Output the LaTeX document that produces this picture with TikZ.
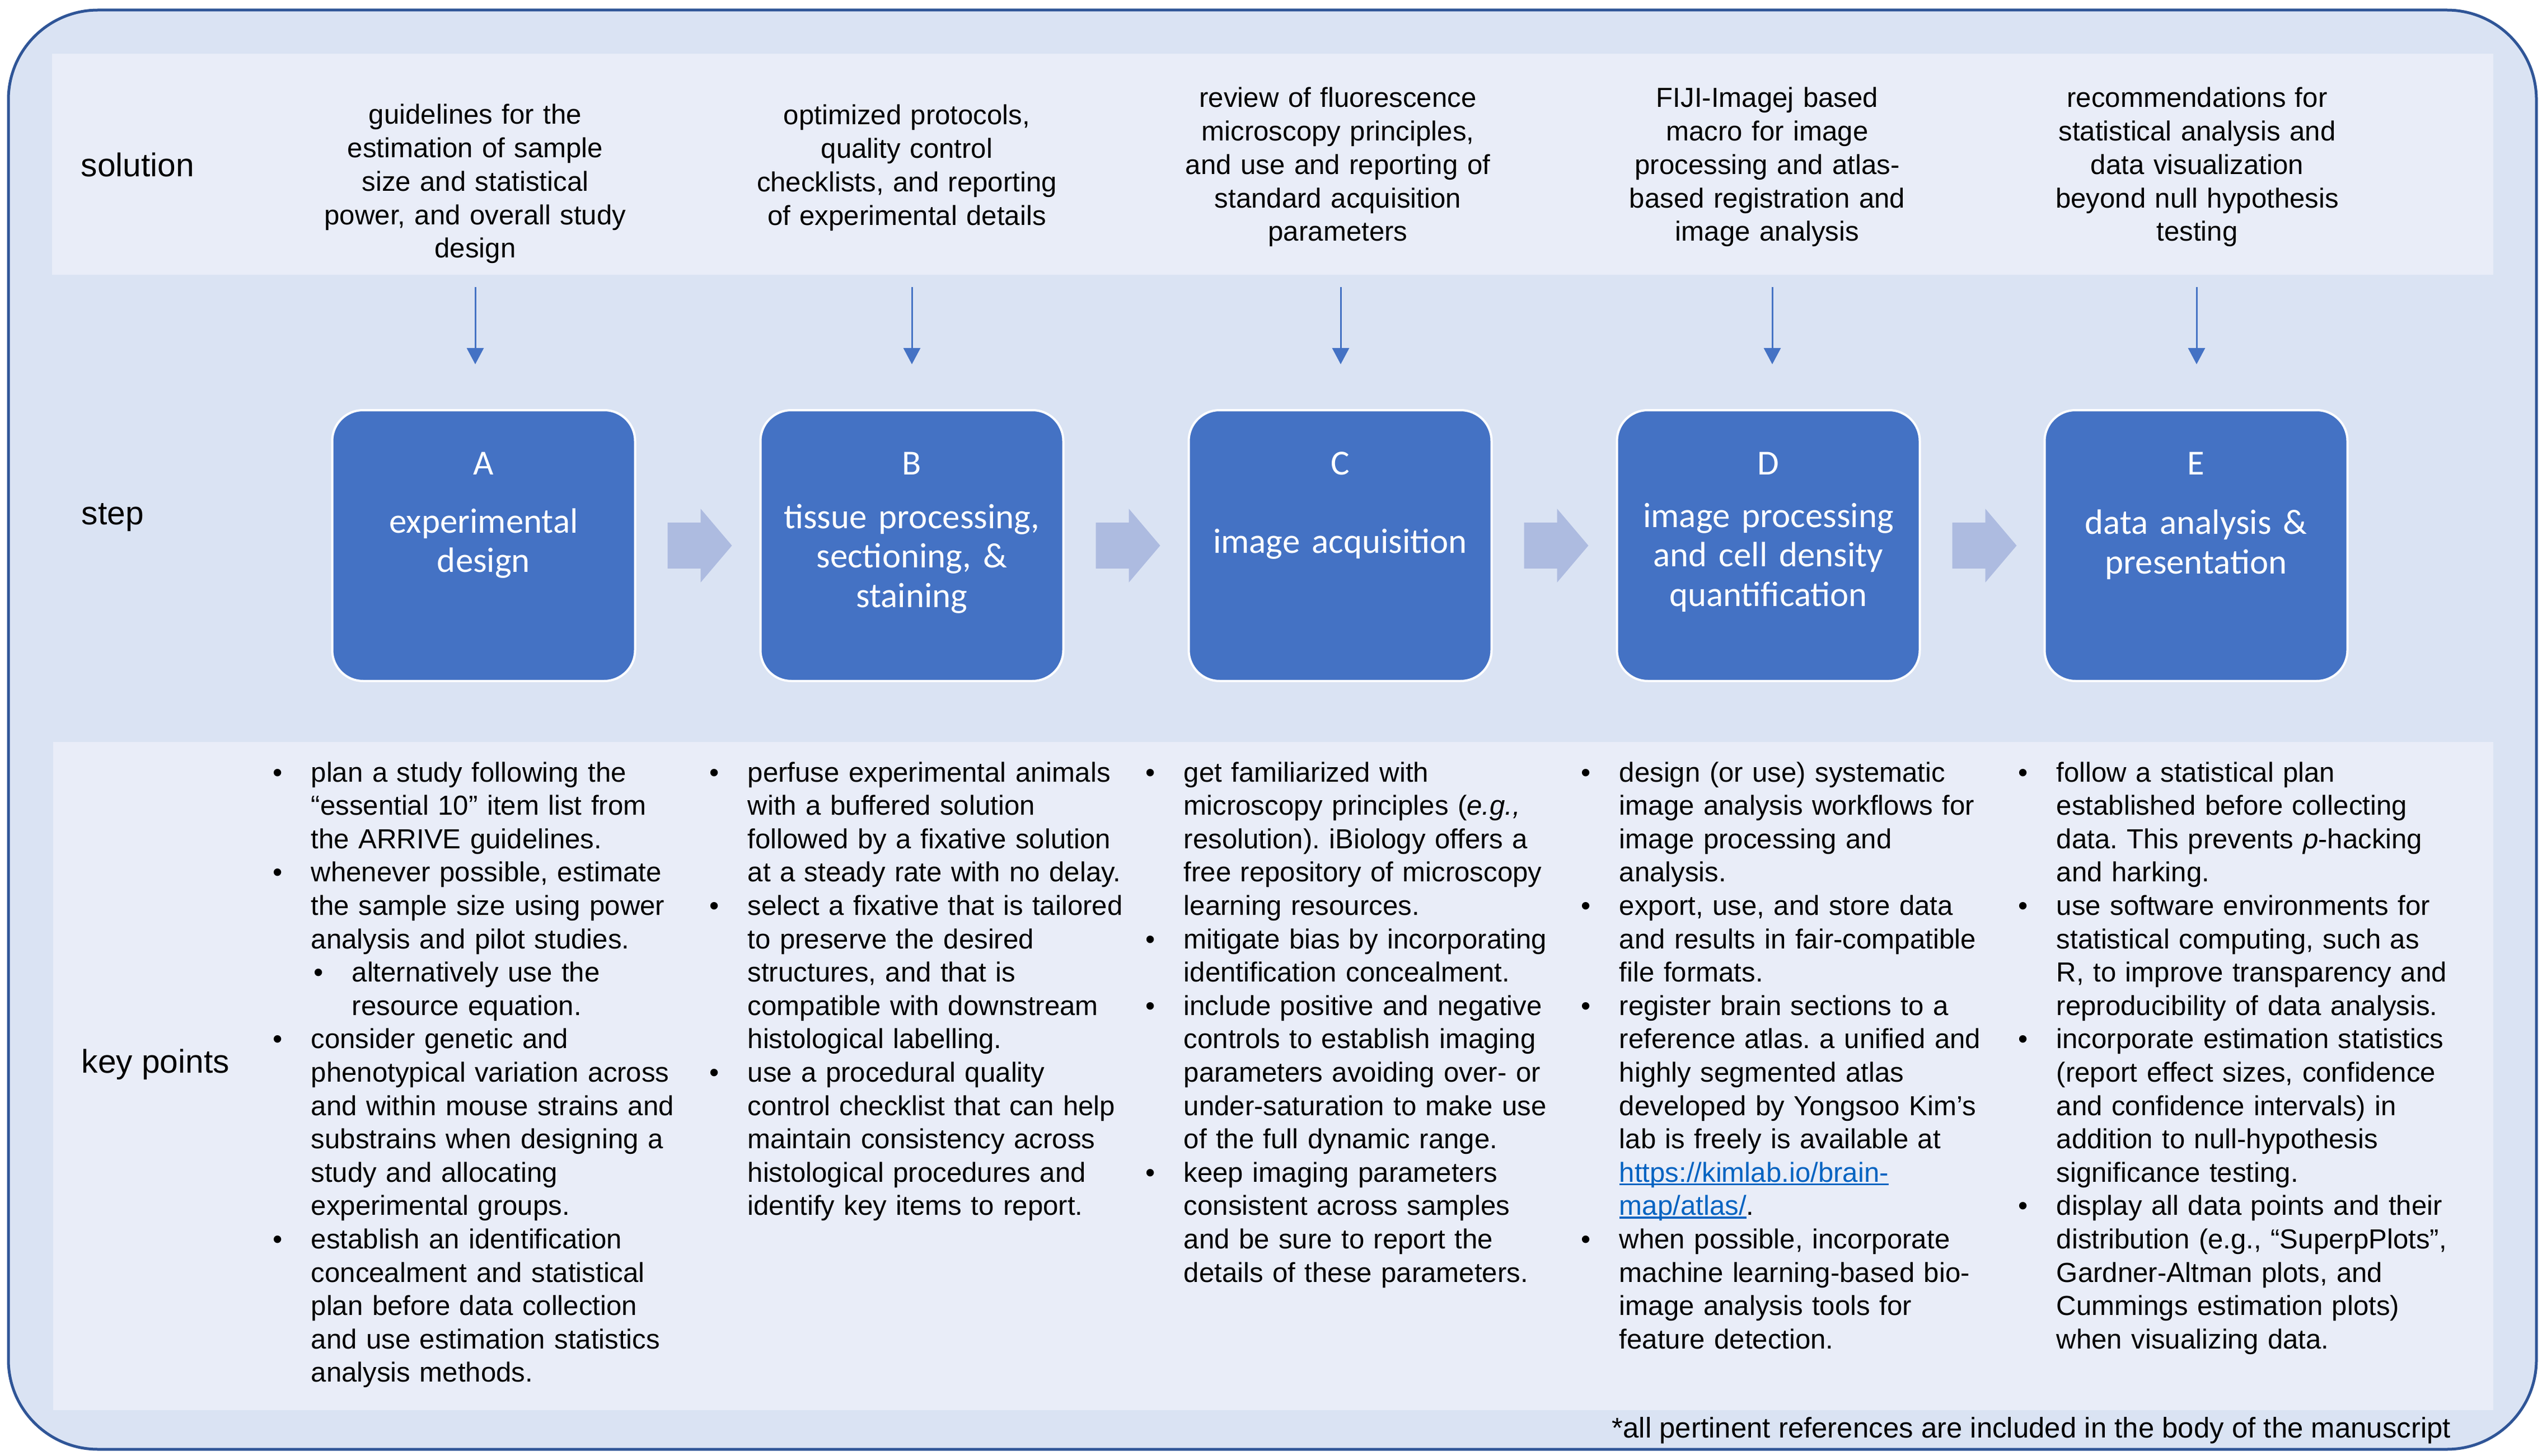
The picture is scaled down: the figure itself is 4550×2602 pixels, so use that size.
\documentclass[tikz,border=0pt]{standalone}
\usepackage{fontspec}
\setmainfont{Liberation Sans}
\newfontfamily\calibrifont{Carlito}
\usetikzlibrary{arrows.meta}
\frenchspacing

\definecolor{framebg}{RGB}{218,227,243}
\definecolor{bandbg}{RGB}{233,237,248}
\definecolor{framedge}{RGB}{47,85,151}
\definecolor{stepblue}{RGB}{68,114,196}
\definecolor{flowblue}{RGB}{173,187,224}
\definecolor{linkblue}{RGB}{5,99,193}

% bullets with hanging indent
\newcommand{\kpitem}[1]{\hangindent=6.8mm\hangafter=1\noindent\makebox[6.8mm][l]{\textbullet}#1\par}
\newcommand{\kpsub}[1]{\hangindent=14.1mm\hangafter=1\noindent\hspace*{7.3mm}\makebox[6.8mm][l]{\textbullet}#1\par}
\newcommand{\weblink}[1]{\setbox0\hbox{#1}\textcolor{linkblue}{\rlap{\rule[-0.12em]{\wd0}{0.07em}}\box0}}

\tikzset{
  rowlabel/.style={anchor=base west, inner sep=0pt, font=\fontsize{16.7pt}{20pt}\selectfont},
  soltext/.style={anchor=base, inner sep=0pt, align=center, text width=70mm, font=\fontsize{14pt}{17pt}\selectfont},
  stepbox/.style={draw=white, line width=0.4mm, fill=stepblue, rounded corners=5.5mm, minimum width=54.1mm, minimum height=48.4mm, inner sep=0pt},
  steptext/.style={anchor=base, inner sep=0pt, align=center, text width=52mm, text=white, font=\calibrifont\fontsize{17.9pt}{20.2pt}\selectfont},
  keytext/.style={anchor=base west, inner sep=0pt, align=left, text width=80mm, font=\fontsize{14pt}{16.96pt}\selectfont},
  solarrow/.style={draw=stepblue, line width=0.3mm, -{Triangle[length=2.9mm,width=3mm]}},
  flowarrow/.style={fill=flowblue}
}

\begin{document}
\begin{tikzpicture}[x=0.1mm, y=-0.1mm, line join=round]
\useasboundingbox (0,0) rectangle (4550,2602);
% frame and bands
\draw[framedge, fill=framebg, line width=0.5mm, rounded corners=16mm] (15,18) rectangle (4531,2590);
\fill[bandbg] (93,96) rectangle (4454,491);
\fill[bandbg] (95,1326) rectangle (4454,2520);

% row labels
\node[rowlabel] (lsol) at (144,316) {solution};
\node[rowlabel] (lstep) at (145,937) {step};
\node[rowlabel] (lkey) at (145,1917) {key points};

% solutions
\node[soltext] (solA) at (849,222) {guidelines for the\\ estimation of sample\\ size and statistical\\ power, and overall study\\ design};
\node[soltext] (solB) at (1620,223) {optimized protocols,\\ quality control\\ checklists, and reporting\\ of experimental details};
\node[soltext] (solC) at (2390,192) {review of fluorescence\\ microscopy principles,\\ and use and reporting of\\ standard acquisition\\ parameters};
\node[soltext] (solD) at (3157,192) {FIJI-Imagej based\\ macro for image\\ processing and atlas-\\ based registration and\\ image analysis};
\node[soltext] (solE) at (3925,192) {recommendations for\\ statistical analysis and\\ data visualization\\ beyond null hypothesis\\ testing};

\foreach \n/\x in {A/849,B/1629,C/2395,D/3166,E/3924} {
  \coordinate (top\n) at (\x,513);
  \coordinate (bot\n) at (\x,651);
  \draw[solarrow] (top\n) -- (bot\n);
}

% steps
\node[stepbox] (stepA) at (864,975) {};
\node[stepbox] (stepB) at (1629,975) {};
\node[stepbox] (stepC) at (2394,975) {};
\node[stepbox] (stepD) at (3159,975) {};
\node[stepbox] (stepE) at (3923,975) {};

\foreach \p in {stepA,stepB,stepC,stepD}
  \fill[flowarrow] ([shift={(56,-41)}]\p.east) -- ++(59,0) -- ++(0,-25) -- ([shift={(171,0)}]\p.east)
    -- ([shift={(115,66)}]\p.east) -- ++(0,-25) -- ([shift={(56,41)}]\p.east) -- cycle;

\node[steptext] (ltA) at (864,848) {A};
\node[steptext] (ltB) at (1629,848) {B};
\node[steptext] (ltC) at (2394,848) {C};
\node[steptext] (ltD) at (3159,848) {D};
\node[steptext] (ltE) at (3923,848) {E};

\node[steptext] (txA) at (864,952) {experimental\\ design};
\node[steptext] (txB) at (1629,944) {tissue processing,\\ sectioning, \&\\ staining};
\node[steptext] (txC) at (2394,988) {image acquisition};
\node[steptext] (txD) at (3159,942) {image processing\\ and cell density\\ quantification};
\node[steptext] (txE) at (3923,955) {data analysis \&\\ presentation};

% key points
\node[keytext] (keyA) at (487,1397) {%
\kpitem{plan a study following the\newline “essential 10” item list from\newline the ARRIVE guidelines.}
\kpitem{whenever possible, estimate\newline the sample size using power\newline analysis and pilot studies.}
\kpsub{alternatively use the\newline resource equation.}
\kpitem{consider genetic and\newline phenotypical variation across\newline and within mouse strains and\newline substrains when designing a\newline study and allocating\newline experimental groups.}
\kpitem{establish an identification\newline concealment and statistical\newline plan before data collection\newline and use estimation statistics\newline analysis methods.}};

\node[keytext] (keyB) at (1267,1397) {%
\kpitem{perfuse experimental animals\newline with a buffered solution\newline followed by a fixative solution\newline at a steady rate with no delay.}
\kpitem{select a fixative that is tailored\newline to preserve the desired\newline structures, and that is\newline compatible with downstream\newline histological labelling.}
\kpitem{use a procedural quality\newline control checklist that can help\newline maintain consistency across\newline histological procedures and\newline identify key items to report.}};

\node[keytext] (keyC) at (2046,1397) {%
\kpitem{get familiarized with\newline microscopy principles (\textit{e.g.,}\newline resolution). iBiology offers a\newline free repository of microscopy\newline learning resources.}
\kpitem{mitigate bias by incorporating\newline identification concealment.}
\kpitem{include positive and negative\newline controls to establish imaging\newline parameters avoiding over- or\newline under-saturation to make use\newline of the full dynamic range.}
\kpitem{keep imaging parameters\newline consistent across samples\newline and be sure to report the\newline details of these parameters.}};

\node[keytext] (keyD) at (2824,1397) {%
\kpitem{design (or use) systematic\newline image analysis workflows for\newline image processing and\newline analysis.}
\kpitem{export, use, and store data\newline and results in fair-compatible\newline file formats.}
\kpitem{register brain sections to a\newline reference atlas. a unified and\newline highly segmented atlas\newline developed by Yongsoo Kim’s\newline lab is freely is available at\newline \weblink{https://kimlab.io/brain-}\newline \weblink{map/atlas/}.}
\kpitem{when possible, incorporate\newline machine learning-based bio-\newline image analysis tools for\newline feature detection.}};

\node[keytext] (keyE) at (3605,1397) {%
\kpitem{follow a statistical plan\newline established before collecting\newline data. This prevents \textit{p}-hacking\newline and harking.}
\kpitem{use software environments for\newline statistical computing, such as\newline R, to improve transparency and\newline reproducibility of data analysis.}
\kpitem{incorporate estimation statistics\newline (report effect sizes, confidence\newline and confidence intervals) in\newline addition to null-hypothesis\newline significance testing.}
\kpitem{display all data points and their\newline distribution (e.g., “SuperpPlots”,\newline Gardner-Altman plots, and\newline Cummings estimation plots)\newline when visualizing data.}};

\node[anchor=base east, inner sep=0pt, font=\fontsize{14.5pt}{17pt}\selectfont] (note) at (4379,2569) {*all pertinent references are included in the body of the manuscript};
\end{tikzpicture}
\end{document}
